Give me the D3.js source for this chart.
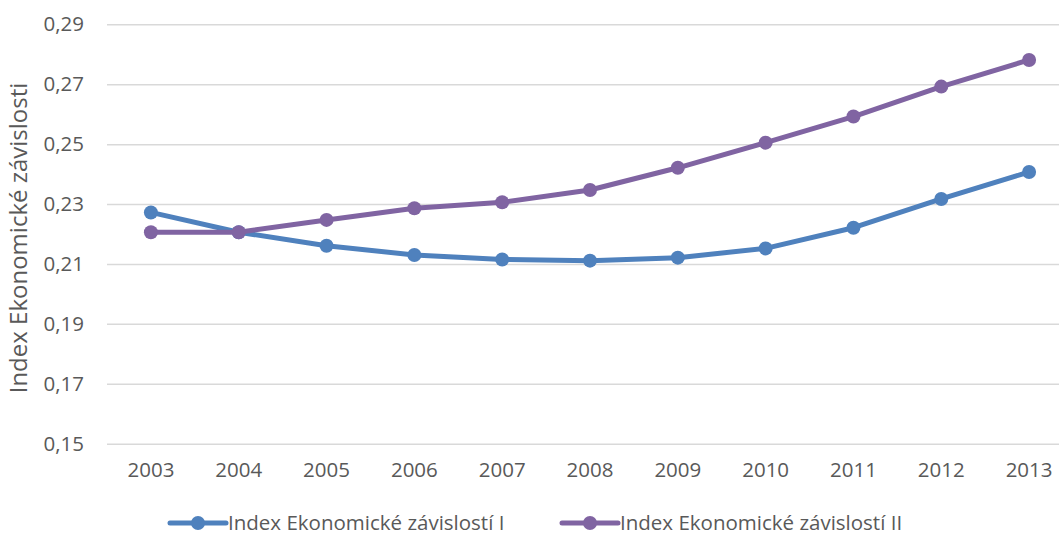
<!DOCTYPE html>
<html>
<head>
<meta charset="utf-8">
<script src="https://cdn.jsdelivr.net/npm/d3@7/dist/d3.min.js"></script>
<style>
  html, body { margin: 0; padding: 0; background: #fff; }
  svg { display: block; font-family: "Open Sans", sans-serif; }
</style>
</head>
<body>
<svg id="chart" width="1059" height="538"></svg>
<script>
// Years on the category axis
const years = ["2003","2004","2005","2006","2007","2008","2009","2010","2011","2012","2013"];
// Index values per year
const indexI  = [0.2272, 0.2206, 0.2161, 0.2130, 0.2115, 0.2111, 0.2121, 0.2152, 0.2221, 0.2317, 0.2407];
const indexII = [0.2206, 0.2206, 0.2247, 0.2286, 0.2306, 0.2347, 0.2421, 0.2505, 0.2592, 0.2692, 0.2781];
const seriesNames = ["Index Ekonomické závislostí I", "Index Ekonomické závislostí II"];
const seriesColors = ["#4F81BD", "#8064A2"];
const yTicks = [0.15, 0.17, 0.19, 0.21, 0.23, 0.25, 0.27, 0.29];
const yTitle = "Index Ekonomické závislosti";

const svg = d3.select("#chart");
const plot = { left: 107, right: 1073, top: 24.3, bottom: 443.7 };

const x = d3.scaleBand().domain(years).range([plot.left, plot.right]);
const y = d3.scaleLinear().domain([0.15, 0.29]).range([plot.bottom, plot.top]);
const fmt = v => d3.format(".2f")(v).replace(".", ",");

// Horizontal gridlines with value labels
const yAxis = d3.axisLeft(y).tickValues(yTicks).tickFormat(fmt)
  .tickSize(-(plot.right - plot.left)).tickPadding(23);
const gy = svg.append("g").attr("transform", `translate(${plot.left},0)`).call(yAxis);
gy.select(".domain").remove();
gy.selectAll(".tick line").attr("stroke", "#D9D9D9").attr("stroke-width", 1.5);
gy.selectAll(".tick text").attr("fill", "#595959").style("font-size", "20.5px")
  .style("font-family", "Open Sans");

// Year labels
const xAxis = d3.axisBottom(x).tickSize(0).tickPadding(19);
const gx = svg.append("g").attr("transform", `translate(0,${plot.bottom})`).call(xAxis);
gx.select(".domain").remove();
gx.selectAll(".tick text").attr("fill", "#595959").style("font-size", "20.5px")
  .style("font-family", "Open Sans");

// Axis title
svg.append("text")
  .attr("transform", `translate(27,238) rotate(-90)`)
  .attr("text-anchor", "middle")
  .attr("fill", "#595959")
  .style("font-size", "24px")
  .text(yTitle);

// Series lines and markers
const line = d3.line().x((d, i) => x(years[i]) + x.bandwidth() / 2).y(d => y(d));
[indexI, indexII].forEach((vals, s) => {
  const g = svg.append("g");
  g.append("path").datum(vals).attr("d", line)
    .attr("fill", "none").attr("stroke", seriesColors[s])
    .attr("stroke-width", 5).attr("stroke-linejoin", "round").attr("stroke-linecap", "round");
  g.selectAll("circle").data(vals).join("circle")
    .attr("cx", (d, i) => x(years[i]) + x.bandwidth() / 2)
    .attr("cy", d => y(d))
    .attr("r", 7)
    .attr("fill", seriesColors[s]);
});

// Legend
const legendX = [170, 562];
const legendY = 523;
seriesNames.forEach((name, s) => {
  const g = svg.append("g").attr("transform", `translate(${legendX[s]},${legendY})`);
  g.append("line").attr("x1", 0).attr("x2", 56).attr("y1", 0).attr("y2", 0)
    .attr("stroke", seriesColors[s]).attr("stroke-width", 5).attr("stroke-linecap", "round");
  g.append("circle").attr("cx", 28).attr("cy", 0).attr("r", 7).attr("fill", seriesColors[s]);
  g.append("text").attr("x", 58).attr("y", 0).attr("dy", "0.35em")
    .attr("fill", "#595959").style("font-size", "20.5px").text(name);
});
</script>
</body>
</html>
